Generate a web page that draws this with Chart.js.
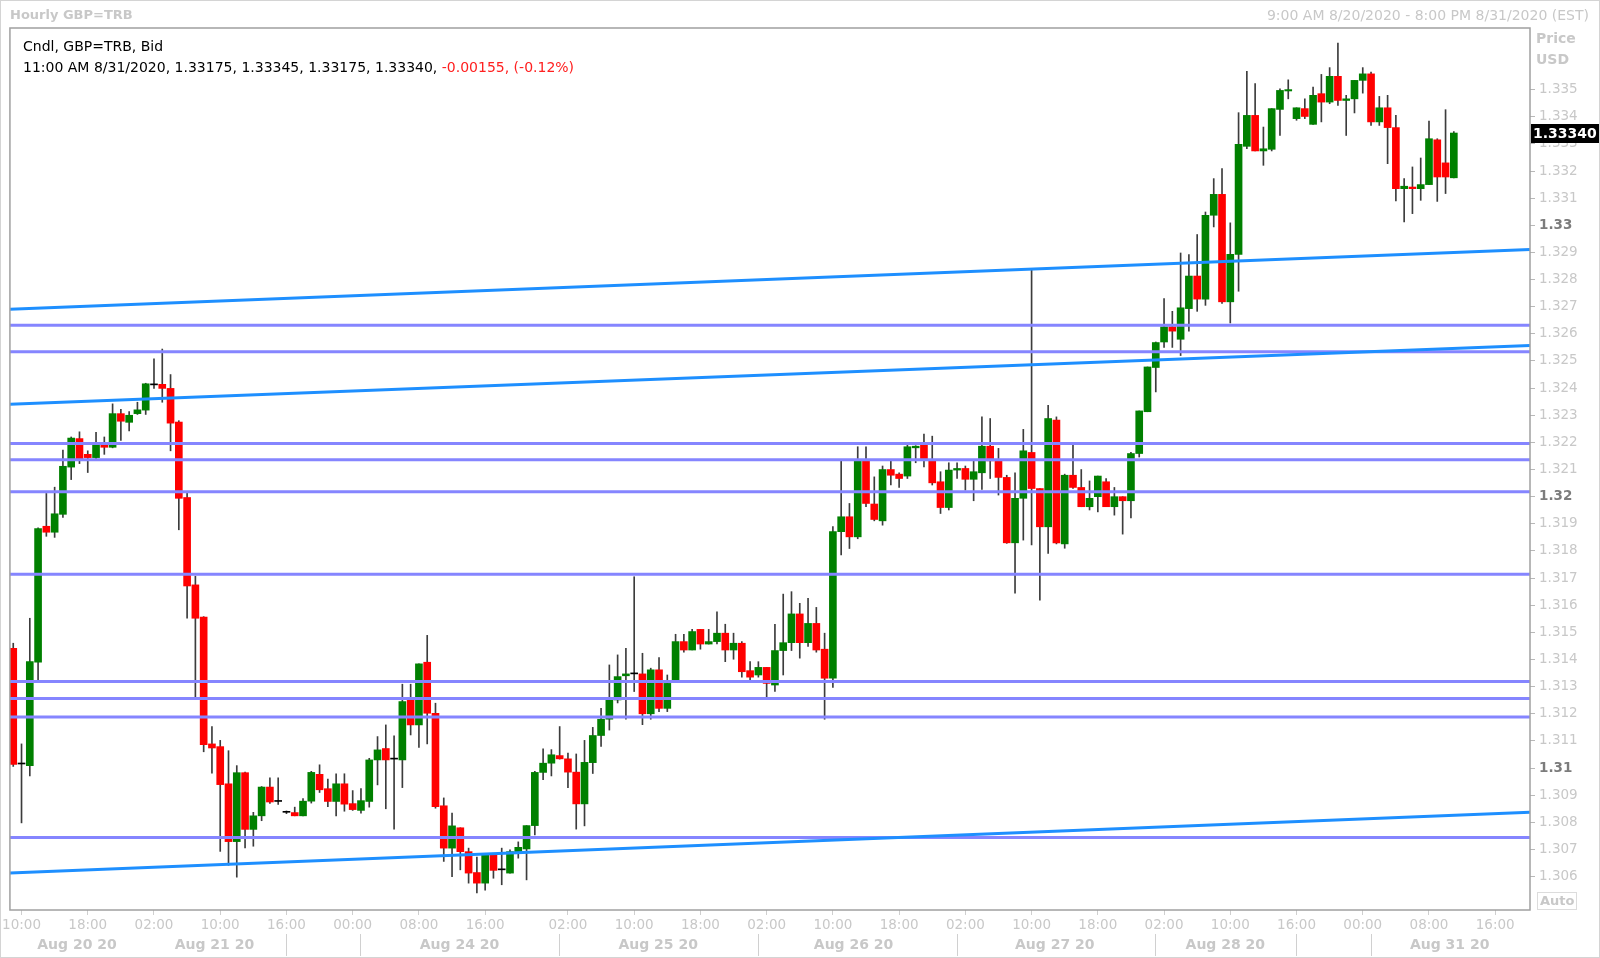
<!DOCTYPE html>
<html><head><meta charset="utf-8">
<script src="https://cdn.jsdelivr.net/npm/chart.js@4.4.1/dist/chart.umd.min.js"></script>
<style>
html,body{margin:0;padding:0;background:#fff;}
#wrap{position:relative;width:1600px;height:958px;overflow:hidden;background:#fff;}
#frame{position:absolute;left:0;top:0;width:1600px;height:958px;box-sizing:border-box;border:1px solid #d4d4d4;pointer-events:none;}
canvas{position:absolute;left:0;top:0;}
.t{position:absolute;font-family:"DejaVu Sans",sans-serif;white-space:nowrap;line-height:16px;}
</style></head><body>
<div id="wrap">
<canvas id="c" width="1600" height="958"></canvas>
<div class="t" style="left:10px;top:7px;font-size:13px;font-weight:bold;color:#c8c8c8">Hourly GBP=TRB</div>
<div class="t" style="right:11px;top:7px;font-size:14px;color:#c8c8c8">9:00 AM 8/20/2020 - 8:00 PM 8/31/2020 (EST)</div>
<div class="t" id="hdr1" style="left:23px;top:38px;font-size:14px;color:#000">Cndl, GBP=TRB, Bid</div>
<div class="t" id="hdr2" style="left:23px;top:59px;font-size:14px;color:#000"></div>
<div class="t" style="left:1536px;top:30px;font-size:14px;font-weight:bold;color:#c8c8c8">Price</div>
<div class="t" style="left:1536px;top:51px;font-size:14px;font-weight:bold;color:#c8c8c8">USD</div>
<div class="t" style="left:1537px;top:892px;font-size:13px;font-weight:bold;color:#c8c8c8;border:1px solid #dcdcdc;padding:0 2px;">Auto</div>
<div id="frame"></div>
</div>
<script>
// ---- data (one entry per hourly slot, slot 0 = 9:00 AM 8/20/2020) ----
const opens = [1.31441,1.31015,1.31009,1.31390,1.31891,1.31869,1.31935,1.32109,1.32214,1.32156,
1.32144,1.32195,1.32182,1.32306,1.32274,1.32306,1.32319,1.32412,1.32414,1.32399,
1.32275,1.31997,1.31675,1.31556,1.31089,1.31079,1.30942,1.30729,1.30983,1.30774,
1.30824,1.30930,1.30877,1.30837,1.30836,1.30824,1.30878,1.30977,1.30924,1.30877,
1.30942,1.30869,1.30844,1.30877,1.31030,1.31072,1.31033,1.31030,1.31251,1.31159,
1.31390,1.31202,1.30861,1.30705,1.30780,1.30692,1.30615,1.30576,1.30680,1.30625,
1.30613,1.30686,1.30702,1.30788,1.30984,1.31018,1.31046,1.31034,1.30985,1.30868,
1.31020,1.31120,1.31180,1.31251,1.31340,1.31347,1.31347,1.31200,1.31362,1.31220,
1.31325,1.31466,1.31435,1.31511,1.31457,1.31466,1.31497,1.31435,1.31460,1.31359,
1.31343,1.31371,1.31306,1.31433,1.31462,1.31568,1.31462,1.31533,1.31438,1.31331,
1.31871,1.31926,1.31852,1.32135,1.31973,1.31911,1.32100,1.32083,1.32076,1.32180,
1.32194,1.32137,1.32055,1.31960,1.32098,1.32104,1.32064,1.32088,1.32186,1.32135,
1.32071,1.31830,1.31994,1.32163,1.32030,1.31889,1.32282,1.31826,1.32079,1.32034,
1.31963,1.32000,1.32055,1.31963,1.32000,1.31985,1.32159,1.32313,1.32476,1.32570,
1.32626,1.32580,1.32693,1.32813,1.32728,1.33037,1.33114,1.32718,1.32893,1.33291,
1.33405,1.33274,1.33280,1.33427,1.33495,1.33393,1.33430,1.33372,1.33485,1.33454,
1.33549,1.33460,1.33466,1.33534,1.33558,1.33381,1.33433,1.33360,1.33135,1.33141,
1.33135,1.33150,1.33315,1.33230,1.33175];
const highs = [1.31460,1.31089,1.31552,1.31885,1.32012,1.32035,1.32172,1.32220,1.32239,1.32169,
1.32237,1.32220,1.32342,1.32322,1.32314,1.32348,1.32418,1.32508,1.32544,1.32450,
1.32280,1.32012,1.31707,1.31558,1.31153,1.31102,1.31064,1.31009,1.30985,1.30837,
1.30932,1.30964,1.30964,1.30842,1.30856,1.30888,1.30988,1.31012,1.30959,1.30979,
1.30979,1.30917,1.30924,1.31036,1.31116,1.31159,1.31119,1.31309,1.31309,1.31384,
1.31489,1.31239,1.30890,1.30834,1.30780,1.30705,1.30672,1.30680,1.30680,1.30705,
1.30699,1.30728,1.30788,1.30988,1.31071,1.31068,1.31153,1.31055,1.31052,1.31102,
1.31150,1.31220,1.31380,1.31417,1.31441,1.31705,1.31423,1.31368,1.31407,1.31343,
1.31493,1.31493,1.31511,1.31511,1.31511,1.31576,1.31530,1.31497,1.31466,1.31392,
1.31392,1.31371,1.31530,1.31641,1.31650,1.31607,1.31625,1.31592,1.31497,1.31890,
1.32137,1.31975,1.32184,1.32184,1.32073,1.32113,1.32137,1.32088,1.32196,1.32188,
1.32231,1.32223,1.32092,1.32125,1.32125,1.32113,1.32135,1.32294,1.32288,1.32178,
1.32079,1.32088,1.32248,1.32834,1.32030,1.32337,1.32294,1.32083,1.32199,1.32100,
1.32058,1.32076,1.32067,1.32034,1.32000,1.32163,1.32316,1.32478,1.32570,1.32730,
1.32683,1.32898,1.32892,1.32966,1.33049,1.33172,1.33209,1.33009,1.33415,1.33567,
1.33522,1.33362,1.33430,1.33503,1.33536,1.33433,1.33466,1.33509,1.33556,1.33581,
1.33671,1.33479,1.33534,1.33581,1.33565,1.33475,1.33479,1.33405,1.33172,1.33215,
1.33248,1.33384,1.33319,1.33426,1.33345];
const lows = [1.31006,1.30798,1.30971,1.31319,1.31854,1.31850,1.31924,1.32063,1.32122,1.32089,
1.32135,1.32156,1.32180,1.32207,1.32242,1.32303,1.32303,1.32399,1.32348,1.32169,
1.31878,1.31552,1.31258,1.31060,1.30981,1.30693,1.30642,1.30598,1.30706,1.30712,
1.30806,1.30870,1.30866,1.30832,1.30824,1.30824,1.30871,1.30910,1.30858,1.30824,
1.30841,1.30844,1.30834,1.30856,1.30938,1.30850,1.30775,1.30928,1.31122,1.31076,
1.31089,1.30852,1.30656,1.30600,1.30625,1.30576,1.30540,1.30550,1.30594,1.30570,
1.30613,1.30668,1.30588,1.30754,1.30957,1.30971,1.31033,1.30928,1.30775,1.30787,
1.30980,1.31080,1.31140,1.31240,1.31180,1.31282,1.31160,1.31180,1.31208,1.31208,
1.31320,1.31427,1.31435,1.31438,1.31457,1.31457,1.31392,1.31401,1.31335,1.31325,
1.31335,1.31261,1.31282,1.31343,1.31433,1.31405,1.31448,1.31427,1.31180,1.31297,
1.31785,1.31809,1.31845,1.31963,1.31911,1.31895,1.32043,1.32034,1.32067,1.32125,
1.32110,1.32043,1.31938,1.31951,1.32067,1.32024,1.31985,1.32027,1.32067,1.32006,
1.31828,1.31644,1.31840,1.31822,1.31619,1.31791,1.31826,1.31810,1.32030,1.31963,
1.31951,1.31944,1.31963,1.31932,1.31862,1.31922,1.32146,1.32313,1.32386,1.32550,
1.32550,1.32520,1.32610,1.32683,1.32705,1.32994,1.32712,1.32640,1.32757,1.33282,
1.33274,1.33221,1.33274,1.33331,1.33466,1.33387,1.33393,1.33372,1.33381,1.33448,
1.33442,1.33331,1.33414,1.33487,1.33368,1.33368,1.33227,1.33090,1.33012,1.33043,
1.33092,1.33150,1.33088,1.33117,1.33175];
const closes = [1.31013,1.31015,1.31392,1.31882,1.31869,1.31937,1.32112,1.32216,1.32135,1.32144,
1.32195,1.32182,1.32306,1.32278,1.32300,1.32320,1.32416,1.32412,1.32399,1.32271,
1.31994,1.31671,1.31552,1.31086,1.31074,1.30939,1.30729,1.30983,1.30774,1.30824,
1.30930,1.30875,1.30877,1.30837,1.30824,1.30878,1.30984,1.30920,1.30877,1.30942,
1.30867,1.30847,1.30880,1.31030,1.31067,1.31030,1.31033,1.31245,1.31159,1.31384,
1.31202,1.30858,1.30705,1.30787,1.30692,1.30613,1.30576,1.30680,1.30623,1.30625,
1.30692,1.30708,1.30788,1.30984,1.31018,1.31049,1.31034,1.30985,1.30868,1.31021,
1.31120,1.31180,1.31251,1.31337,1.31347,1.31347,1.31200,1.31362,1.31220,1.31312,
1.31466,1.31435,1.31503,1.31457,1.31466,1.31497,1.31435,1.31460,1.31355,1.31335,
1.31371,1.31312,1.31433,1.31462,1.31568,1.31462,1.31533,1.31435,1.31331,1.31871,
1.31926,1.31852,1.32137,1.31975,1.31916,1.32100,1.32079,1.32067,1.32184,1.32186,
1.32137,1.32051,1.31960,1.32098,1.32104,1.32064,1.32092,1.32186,1.32132,1.32071,
1.31830,1.31994,1.32169,1.32030,1.31889,1.32288,1.31830,1.32079,1.32034,1.31963,
1.31994,1.32076,1.31963,1.32000,1.31985,1.32159,1.32316,1.32478,1.32568,1.32626,
1.32610,1.32696,1.32813,1.32728,1.33037,1.33114,1.32718,1.32893,1.33298,1.33405,
1.33274,1.33282,1.33430,1.33497,1.33500,1.33433,1.33401,1.33479,1.33454,1.33549,
1.33460,1.33466,1.33534,1.33558,1.33381,1.33433,1.33360,1.33135,1.33144,1.33135,
1.33150,1.33319,1.33178,1.33178,1.33340];

// time axis tick labels (slot index -> label)
const timeTickSlots  = [1,9,17,25,33,41,49,57,67,75,83,91,99,107,115,123,131,139,147,155,163,171,179];
const timeTickLabels = ['10:00','18:00','02:00','10:00','16:00','00:00','08:00','16:00','02:00','10:00','18:00','02:00','10:00','18:00','02:00','10:00','18:00','02:00','10:00','16:00','00:00','08:00','16:00'];
// date row
const dayLabelSlots = [7.7,24.3,53.9,77.9,101.5,125.8,146.4,173.5];
const dayLabels     = ['Aug 20 20','Aug 21 20','Aug 24 20','Aug 25 20','Aug 26 20','Aug 27 20','Aug 28 20','Aug 31 20'];
const daySeparatorSlots = [33,42,66,90,114,138,155,164];
// price axis ticks
const priceTicks = [1.306,1.307,1.308,1.309,1.310,1.311,1.312,1.313,1.314,1.315,1.316,1.317,1.318,1.319,1.320,
                    1.321,1.322,1.323,1.324,1.325,1.326,1.327,1.328,1.329,1.330,1.331,1.332,1.333,1.334,1.335];
// horizontal support / resistance levels
const levels = [1.32632,1.32534,1.32196,1.32136,1.32018,1.31714,1.31319,1.31256,1.31188,1.30744];
// rising channel lines (value at left edge, value at right edge)
const trendStart = [1.32691,1.32341,1.30613];
const trendEnd   = [1.32911,1.32557,1.30837];
// header info
const lastTimeText = '11:00 AM 8/31/2020';
const changeText = '-0.00155, (-0.12%)';

// ---- chart ----
const X_MIN = -0.4, X_MAX = 183.2;
const Y_MIN = 1.30477, Y_MAX = 1.33727;
const FONT = '"DejaVu Sans", sans-serif';
Chart.defaults.font.family = FONT;

const n = opens.length;
const idx = opens.map((_, i) => i);
const wickData = idx.map(i => ({x: i, y: [lows[i], highs[i]]}));
const bodyData = idx.map(i => ({x: i, y: [opens[i], closes[i]]}));
const bodyColors = idx.map(i => closes[i] > opens[i] ? '#008000' : (closes[i] < opens[i] ? '#ff0000' : '#000000'));

const f5 = v => v.toFixed(5);
document.getElementById('hdr2').innerHTML =
  lastTimeText + ', ' + f5(opens[n-1]) + ', ' + f5(highs[n-1]) + ', ' + f5(lows[n-1]) + ', ' + f5(closes[n-1]) +
  ', <span style="color:#ff2020">' + changeText + '</span>';

const datasets = [];
trendStart.forEach((v, k) => datasets.push({
  type: 'line', data: [{x: X_MIN, y: v}, {x: X_MAX, y: trendEnd[k]}],
  borderColor: '#1e8fff', borderWidth: 3, pointRadius: 0, order: 0
}));
levels.forEach(v => datasets.push({
  type: 'line', data: [{x: X_MIN, y: v}, {x: X_MAX, y: v}],
  borderColor: '#8585ff', borderWidth: 3, pointRadius: 0, order: 1
}));
datasets.push({type: 'bar', data: bodyData, backgroundColor: bodyColors, barThickness: 7, grouped: false, minBarLength: 1, order: 2});
datasets.push({type: 'bar', data: wickData, backgroundColor: '#3c3c3c', barThickness: 1, grouped: false, minBarLength: 1, order: 3});

const sepSet = new Set(daySeparatorSlots);
const isMajor = v => Math.abs(v * 100 - Math.round(v * 100)) < 1e-7;
const tickVal = ctx => (ctx && ctx.tick) ? ctx.tick.value : NaN;

const borderPlugin = {
  id: 'plotBorder',
  afterDatasetsDraw(chart) {
    const {ctx, chartArea: a} = chart;
    ctx.save();
    ctx.strokeStyle = '#a0a0a0';
    ctx.lineWidth = 1.5;
    ctx.strokeRect(a.left, a.top, a.right - a.left, a.bottom - a.top);
    ctx.restore();
  }
};
const tagPlugin = {
  id: 'lastTag',
  afterDraw(chart) {
    const {ctx, chartArea: a, scales: {y}} = chart;
    const v = closes[n - 1];
    const py = Math.round(y.getPixelForValue(v));
    ctx.save();
    ctx.fillStyle = '#000';
    ctx.fillRect(a.right + 1, py - 9, 70, 19);
    ctx.fillStyle = '#fff';
    ctx.font = 'bold 14px ' + FONT;
    ctx.textBaseline = 'middle';
    ctx.textAlign = 'left';
    ctx.fillText(f5(v), a.right + 3, py + 1);
    ctx.restore();
  }
};

new Chart(document.getElementById('c'), {
  type: 'bar',
  data: {datasets},
  plugins: [borderPlugin, tagPlugin],
  options: {
    responsive: false,
    animation: false,
    devicePixelRatio: 1,
    layout: {padding: {left: 9, top: 28, right: 0, bottom: 0}},
    plugins: {legend: {display: false}, tooltip: {enabled: false}},
    scales: {
      x: {
        type: 'linear', position: 'bottom', min: X_MIN, max: X_MAX, weight: 0, offset: false,
        afterBuildTicks: s => { s.ticks = timeTickSlots.map(v => ({value: v})); },
        afterFit: s => { s.height = 24; },
        ticks: {autoSkip: false, maxRotation: 0, color: '#c8c8c8', padding: 2,
          font: {family: FONT, size: 13.5},
          callback: v => timeTickLabels[timeTickSlots.indexOf(v)] || ''},
        grid: {offset: false, drawOnChartArea: false, drawTicks: true, tickLength: 5, color: '#cfcfcf'},
        border: {display: false}
      },
      x2: {
        type: 'linear', position: 'bottom', min: X_MIN, max: X_MAX, weight: 1, offset: false,
        afterBuildTicks: s => {
          const all = dayLabelSlots.concat(daySeparatorSlots).sort((a, b) => a - b);
          s.ticks = all.map(v => ({value: v}));
        },
        afterFit: s => { s.height = 24; },
        ticks: {autoSkip: false, maxRotation: 0, color: '#c8c8c8', padding: -19,
          font: {family: FONT, size: 14, weight: 'bold'},
          callback: v => { const k = dayLabelSlots.indexOf(v); return k >= 0 ? dayLabels[k] : ''; }},
        grid: {offset: false, drawOnChartArea: false, drawTicks: true, tickLength: 22,
          color: ctx => sepSet.has(tickVal(ctx)) ? '#d0d0d0' : 'rgba(0,0,0,0)'},
        border: {display: false}
      },
      y: {
        type: 'linear', position: 'right', min: Y_MIN, max: Y_MAX,
        afterBuildTicks: s => { s.ticks = priceTicks.map(v => ({value: v})); },
        afterFit: s => { s.width = 70; },
        ticks: {autoSkip: false, padding: 4,
          color: ctx => isMajor(tickVal(ctx)) ? '#7c7c7c' : '#c8c8c8',
          font: ctx => ({family: FONT, size: 13.5, weight: isMajor(tickVal(ctx)) ? 'bold' : 'normal'}),
          callback: v => isMajor(v) ? v.toFixed(2) : v.toFixed(3)},
        grid: {drawTicks: true, drawOnChartArea: false, tickLength: 5, color: '#b8b8b8'},
        border: {display: false}
      }
    }
  }
});
</script>
</body></html>
